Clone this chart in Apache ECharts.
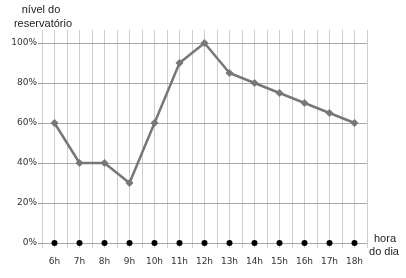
<!DOCTYPE html>
<html><head><meta charset="utf-8">
<script src="https://cdn.jsdelivr.net/npm/echarts@6/dist/echarts.min.js"></script>
<style>html,body{margin:0;padding:0;background:#fff}#c{width:406px;height:278px}</style>
</head><body><div id="c"></div>
<script>
var categories = ['6h','7h','8h','9h','10h','11h','12h','13h','14h','15h','16h','17h','18h'];
var nivel = [60,40,40,30,60,90,100,85,80,75,70,65,60];
var baseline = [0,0,0,0,0,0,0,0,0,0,0,0,0];
var yTicks = [0,20,40,60,80,100];

var chart = echarts.init(document.getElementById('c'));
var lbl = {fontFamily:'DejaVu Sans', fontSize:9, color:'#333'};
chart.setOption({
  animation:false,
  backgroundColor:'#fff',
  grid:[
    {left:42, width:325, top:43, height:200},
    {left:42, width:325, top:30, height:218}
  ],
  xAxis:[
    {type:'category', gridIndex:0, data:categories, boundaryGap:true,
     axisLine:{show:false}, axisTick:{show:false}, splitLine:{show:false},
     axisLabel:Object.assign({margin:14, interval:0}, lbl)},
    {type:'value', gridIndex:1, min:0, max:26, interval:1,
     axisLine:{show:false}, axisTick:{show:false}, axisLabel:{show:false},
     splitLine:{show:true, lineStyle:{color:'#cccccc', width:1}}}
  ],
  yAxis:[
    {type:'value', gridIndex:0, min:0, max:100, interval:20,
     axisLine:{show:false},
     axisTick:{show:true, length:4, lineStyle:{color:'#999'}},
     axisLabel:Object.assign({margin:5, formatter:'{value}%'}, lbl),
     splitLine:{show:true, lineStyle:{color:'#a8a8a8', width:1}}, z:3},
    {type:'value', gridIndex:1, min:0, max:1, show:false}
  ],
  graphic:[
    {type:'text', left:null, x:41, y:10, style:{text:'nível do', fontFamily:'Liberation Sans', fontSize:11, fill:'#222', align:'center', verticalAlign:'middle'}},
    {type:'text', x:43, y:24, style:{text:'reservatório', fontFamily:'Liberation Sans', fontSize:11, fill:'#222', align:'center', verticalAlign:'middle'}},
    {type:'text', x:385, y:239, style:{text:'hora', fontFamily:'Liberation Sans', fontSize:11, fill:'#222', align:'center', verticalAlign:'middle'}},
    {type:'text', x:384, y:252, style:{text:'do dia', fontFamily:'Liberation Sans', fontSize:11, fill:'#222', align:'center', verticalAlign:'middle'}}
  ],
  series:[
    {type:'line', xAxisIndex:0, yAxisIndex:0, data:nivel, symbol:'diamond', symbolSize:8,
     itemStyle:{color:'#777'}, lineStyle:{color:'#777', width:2.5}, z:5},
    {type:'line', xAxisIndex:0, yAxisIndex:0, data:baseline, symbol:'circle', symbolSize:6,
     itemStyle:{color:'#000'}, lineStyle:{opacity:0}, z:6}
  ]
});
</script></body></html>
